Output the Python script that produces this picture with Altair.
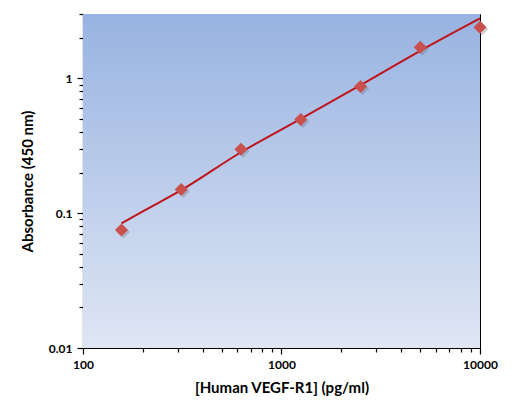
import altair as alt
import pandas as pd

# standard concentrations (pg/ml) and measured absorbance
conc = [156.25, 312.5, 625, 1250, 2500, 5000, 10000]
absorbance = [0.075, 0.150, 0.298, 0.495, 0.87, 1.70, 2.39]

# fitted curve
fit_conc = [156.25, 200, 312.5, 625, 1250, 2500, 5000, 10000]
fit_abs = [0.084, 0.103, 0.148, 0.283, 0.50, 0.89, 1.60, 2.78]

x_ticks = [100, 200, 300, 400, 500, 600, 700, 800, 900,
           1000, 2000, 3000, 4000, 5000, 6000, 7000, 8000, 9000, 10000]
y_ticks = [0.01, 0.02, 0.03, 0.04, 0.05, 0.06, 0.07, 0.08, 0.09,
           0.1, 0.2, 0.3, 0.4, 0.5, 0.6, 0.7, 0.8, 0.9,
           1, 2, 3]

W, H = 397, 334
FONT = "Lato"

pts = pd.DataFrame({"conc": conc, "abs": absorbance})
fit = pd.DataFrame({"conc": fit_conc, "abs": fit_abs})

major = "datum.value == 100 || datum.value == 1000 || datum.value == 10000"
major_y = "datum.value == 0.01 || datum.value == 0.1 || datum.value == 1"

x_enc = alt.X("conc:Q", title="[Human VEGF-R1] (pg/ml)",
              scale=alt.Scale(type="log", domain=[100, 10000], nice=False),
              axis=alt.Axis(values=x_ticks, labelExpr=f"{major} ? toString(datum.value) : ''",
                            tickSize={"condition": {"test": major, "value": 6}, "value": 4},
                            grid=False, labelPadding=5, titlePadding=10, labelFlush=False,
                            labelFontSize=12, titleFontSize=15))
y_enc = alt.Y("abs:Q", title="Absorbance (450 nm)",
              scale=alt.Scale(type="log", domain=[0.01, 3], nice=False),
              axis=alt.Axis(values=y_ticks, labelExpr=f"{major_y} ? toString(datum.value) : ''",
                            tickSize={"condition": {"test": major_y, "value": 6}, "value": 4},
                            grid=False, labelPadding=5, titlePadding=13, labelFlush=False,
                            labelFontSize=12, titleFontSize=15))

bg = alt.Chart(pd.DataFrame({"a": [0]})).mark_rect(
    color=alt.Gradient(gradient="linear", x1=0, x2=0, y1=0, y2=1,
                       stops=[alt.GradientStop(color="#98b3e1", offset=0),
                              alt.GradientStop(color="#dfe6f4", offset=1)])
).encode(x=alt.value(0), x2=alt.value(W), y=alt.value(0), y2=alt.value(H))

line = alt.Chart(fit).mark_line(color="#c0141c", strokeWidth=2, interpolate="monotone").encode(
    x=x_enc, y=y_enc)

shadow = alt.Chart(pts).mark_point(shape="diamond", filled=True, size=170, color="#555555",
                                   opacity=0.25, xOffset=2, yOffset=2).encode(
    x="conc:Q", y="abs:Q")

points = alt.Chart(pts).mark_point(shape="diamond", filled=True, size=170, color="#c9504d",
                                   opacity=1).encode(x="conc:Q", y="abs:Q")

chart = alt.layer(bg, line, shadow, points).properties(
    width=W, height=H,
    autosize=alt.AutoSizeParams(type="none"),
    padding={"left": 75, "top": 6, "right": 32, "bottom": 58},
    background="white",
).configure_view(
    stroke="black", strokeWidth=1
).configure_axis(
    domainColor="black", tickColor="black", labelColor="black", titleColor="black",
    labelFont=FONT, titleFont=FONT,
    labelFontWeight="bold", titleFontWeight="bold", domainWidth=1.2, tickWidth=1.2
)

chart.save("out.html", embed_options={"renderer": "svg", "actions": False})
